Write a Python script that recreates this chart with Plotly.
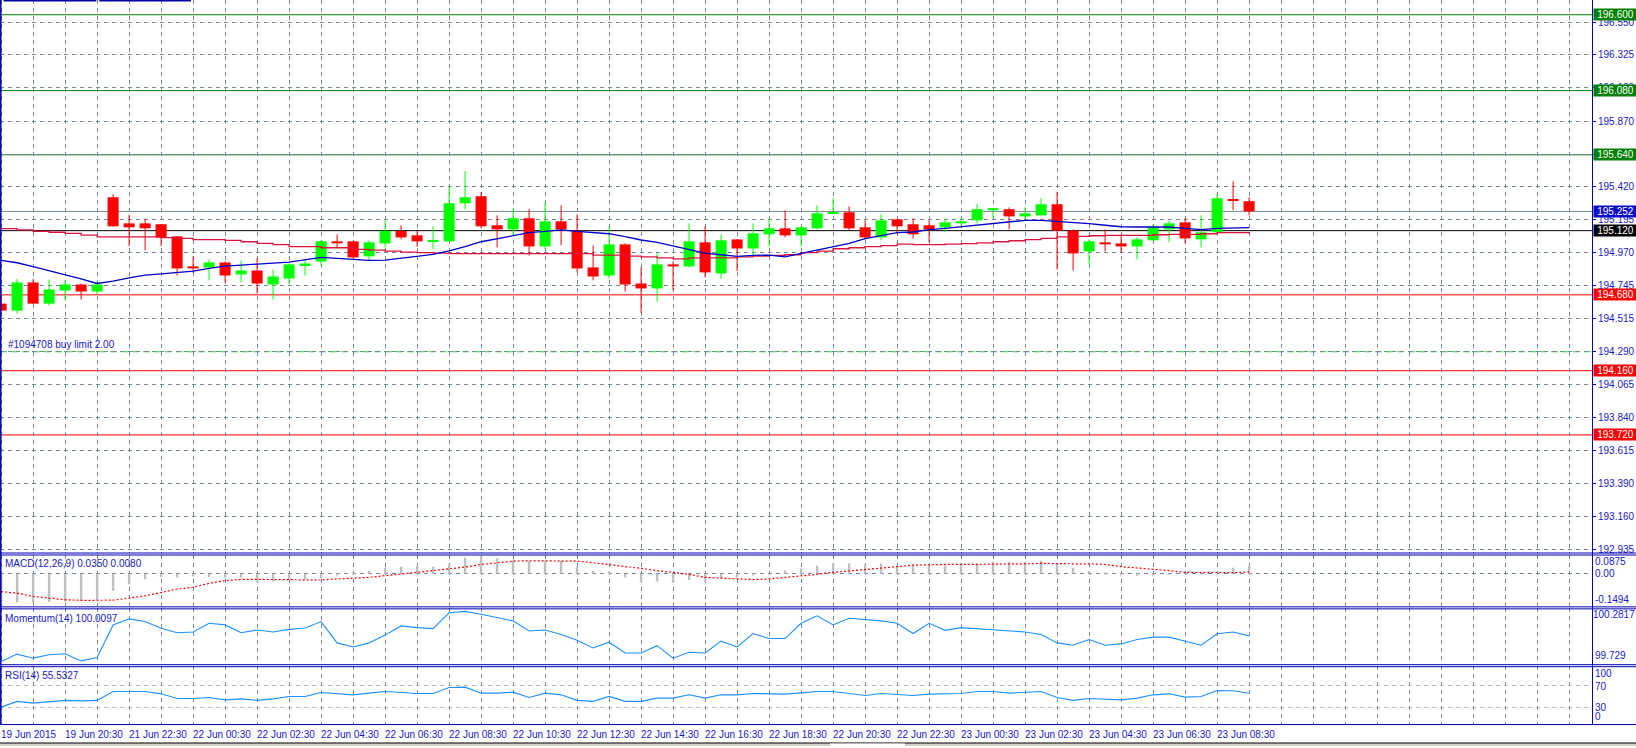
import plotly.graph_objects as go

# ---------------- data ----------------
TIME_LABELS = ["19 Jun 2015", "19 Jun 20:30", "21 Jun 22:30", "22 Jun 00:30", "22 Jun 02:30",
               "22 Jun 04:30", "22 Jun 06:30", "22 Jun 08:30", "22 Jun 10:30", "22 Jun 12:30",
               "22 Jun 14:30", "22 Jun 16:30", "22 Jun 18:30", "22 Jun 20:30", "22 Jun 22:30",
               "23 Jun 00:30", "23 Jun 02:30", "23 Jun 04:30", "23 Jun 06:30", "23 Jun 08:30"]
LABEL_EVERY = 4

OPEN = [194.620, 194.572, 194.765, 194.620, 194.710, 194.751, 194.703, 195.349, 195.170, 195.170,
        195.164, 195.081, 194.875, 194.868, 194.902, 194.820, 194.847, 194.751, 194.792, 194.882,
        194.909, 195.047, 195.047, 194.944, 195.033, 195.118, 195.088, 195.049, 195.047, 195.308,
        195.356, 195.157, 195.129, 195.205, 195.012, 195.184, 195.120, 194.868, 194.813, 195.026,
        194.758, 194.724, 194.889, 194.875, 195.040, 194.827, 195.060, 194.998, 195.095, 195.136,
        195.088, 195.136, 195.235, 195.246, 195.143, 195.074, 195.198, 195.164, 195.157, 195.143,
        195.170, 195.191, 195.260, 195.267, 195.218, 195.225, 195.301, 195.120, 194.978, 195.040,
        195.033, 195.012, 195.054, 195.129, 195.177, 195.060, 195.109, 195.335, 195.322]
HIGH = [194.694, 194.788, 194.788, 194.785, 194.779, 194.758, 194.774, 195.370, 195.228, 195.202,
        195.166, 195.083, 194.944, 194.923, 194.909, 194.916, 194.930, 194.854, 194.895, 194.923,
        195.054, 195.095, 195.051, 195.054, 195.191, 195.157, 195.118, 195.150, 195.422, 195.528,
        195.384, 195.225, 195.271, 195.267, 195.315, 195.294, 195.232, 195.019, 195.150, 195.033,
        194.868, 194.969, 194.909, 195.170, 195.150, 195.095, 195.062, 195.170, 195.202, 195.260,
        195.150, 195.294, 195.342, 195.287, 195.191, 195.232, 195.200, 195.205, 195.191, 195.205,
        195.205, 195.301, 195.274, 195.280, 195.280, 195.342, 195.386, 195.129, 195.060, 195.129,
        195.095, 195.074, 195.164, 195.191, 195.205, 195.225, 195.370, 195.459, 195.349]
LOW = [194.565, 194.552, 194.618, 194.607, 194.641, 194.648, 194.682, 195.147, 195.015, 194.985,
       195.015, 194.813, 194.831, 194.779, 194.765, 194.765, 194.689, 194.648, 194.758, 194.813,
       194.882, 195.001, 194.934, 194.916, 195.005, 195.060, 195.010, 194.992, 195.045, 195.267,
       195.136, 195.005, 195.088, 194.950, 194.992, 195.019, 194.834, 194.779, 194.792, 194.703,
       194.556, 194.634, 194.710, 194.868, 194.799, 194.792, 194.843, 194.950, 195.010, 195.074,
       195.010, 195.129, 195.232, 195.122, 195.060, 195.054, 195.095, 195.067, 195.040, 195.109,
       195.157, 195.170, 195.205, 195.129, 195.198, 195.223, 194.854, 194.847, 194.889, 194.978,
       194.971, 194.923, 195.052, 195.040, 195.033, 195.005, 195.102, 195.260, 195.225]
CLOSE = [194.572, 194.765, 194.620, 194.717, 194.751, 194.703, 194.751, 195.150, 195.143, 195.136,
         195.072, 194.861, 194.861, 194.902, 194.813, 194.847, 194.758, 194.806, 194.889, 194.895,
         195.047, 195.033, 194.937, 195.040, 195.118, 195.074, 195.047, 195.054, 195.308, 195.349,
         195.150, 195.129, 195.205, 195.012, 195.184, 195.129, 194.861, 194.806, 195.026, 194.751,
         194.724, 194.889, 194.875, 195.047, 194.834, 195.054, 194.998, 195.102, 195.136, 195.088,
         195.143, 195.239, 195.241, 195.136, 195.074, 195.191, 195.150, 195.095, 195.129, 195.177,
         195.184, 195.267, 195.274, 195.218, 195.239, 195.301, 195.120, 194.964, 195.047, 195.026,
         195.012, 195.060, 195.143, 195.170, 195.067, 195.109, 195.342, 195.329, 195.252]

MA_FAST = [194.916, 194.900, 194.873, 194.847, 194.820, 194.790, 194.758, 194.774, 194.797, 194.815,
           194.824, 194.831, 194.843, 194.861, 194.877, 194.884, 194.893, 194.898, 194.905, 194.923,
           194.937, 194.930, 194.923, 194.916, 194.918, 194.932, 194.944, 194.957, 194.982, 195.010,
           195.044, 195.065, 195.090, 195.106, 195.115, 195.125, 195.115, 195.109, 195.099, 195.079,
           195.056, 195.040, 195.017, 194.992, 194.966, 194.955, 194.944, 194.950, 194.953, 194.941,
           194.964, 194.987, 195.008, 195.033, 195.065, 195.085, 195.106, 195.111, 195.127, 195.136,
           195.147, 195.157, 195.170, 195.182, 195.191, 195.191, 195.184, 195.175, 195.168, 195.157,
           195.147, 195.145, 195.145, 195.145, 195.136, 195.127, 195.136, 195.141, 195.141]
MA_SLOW = [195.134, 195.125, 195.115, 195.109, 195.102, 195.090, 195.077, 195.077, 195.077, 195.077,
           195.072, 195.067, 195.058, 195.058, 195.054, 195.044, 195.033, 195.024, 195.010, 195.010,
           195.003, 195.003, 194.992, 194.987, 194.980, 194.973, 194.969, 194.966, 194.962, 194.962,
           194.962, 194.962, 194.962, 194.962, 194.962, 194.962, 194.962, 194.953, 194.953, 194.946,
           194.941, 194.934, 194.927, 194.934, 194.934, 194.934, 194.941, 194.946, 194.950, 194.955,
           194.969, 194.980, 194.996, 195.003, 195.010, 195.017, 195.028, 195.024, 195.024, 195.028,
           195.031, 195.037, 195.044, 195.051, 195.058, 195.067, 195.077, 195.081, 195.085, 195.088,
           195.088, 195.088, 195.092, 195.095, 195.095, 195.099, 195.106, 195.106, 195.099]

MACD_HIST = [-0.127, -0.131, -0.134, -0.130, -0.127, -0.124, -0.122, -0.079, -0.047, -0.026,
             -0.015, -0.017, -0.012, -0.015, -0.017, -0.018, -0.036, -0.036, -0.029, -0.026,
             -0.021, -0.005, 0.006, 0.012, 0.027, 0.032, 0.036, 0.032, 0.042, 0.073,
             0.077, 0.070, 0.065, 0.059, 0.059, 0.059, 0.032, 0.012, 0.009, -0.018,
             -0.036, -0.036, -0.041, -0.029, -0.036, -0.021, -0.018, -0.006, -0.003, 0.014,
             0.024, 0.036, 0.048, 0.047, 0.042, 0.047, 0.039, 0.042, 0.039, 0.039,
             0.047, 0.047, 0.054, 0.054, 0.054, 0.059, 0.042, 0.027, 0.012, 0.002,
             -0.006, -0.009, -0.006, -0.002, -0.003, -0.003, 0.009, 0.027, 0.035]
MACD_SIGNAL = [-0.082, -0.089, -0.104, -0.112, -0.119, -0.122, -0.122, -0.121, -0.112, -0.101,
               -0.086, -0.070, -0.062, -0.044, -0.032, -0.026, -0.026, -0.026, -0.026, -0.026,
               -0.029, -0.024, -0.021, -0.017, -0.009, -0.003, 0.006, 0.014, 0.021, 0.030,
               0.042, 0.051, 0.057, 0.059, 0.059, 0.059, 0.057, 0.050, 0.042, 0.035,
               0.024, 0.014, 0.005, -0.003, -0.017, -0.021, -0.026, -0.027, -0.024, -0.017,
               -0.012, -0.003, 0.006, 0.012, 0.017, 0.024, 0.032, 0.039, 0.042, 0.042,
               0.042, 0.042, 0.044, 0.044, 0.045, 0.047, 0.045, 0.045, 0.045, 0.042,
               0.032, 0.027, 0.021, 0.014, 0.006, 0.005, 0.003, 0.005, 0.008]
MOMENTUM = [99.756, 99.829, 99.789, 99.822, 99.833, 99.762, 99.796, 100.118, 100.178, 100.151,
            100.084, 100.041, 100.048, 100.134, 100.118, 100.041, 100.068, 100.048, 100.074, 100.088,
            100.151, 99.940, 99.900, 99.940, 100.017, 100.108, 100.091, 100.081, 100.238, 100.252,
            100.224, 100.191, 100.158, 100.058, 100.068, 100.023, 99.967, 99.890, 99.947, 99.840,
            99.840, 99.913, 99.789, 99.847, 99.840, 99.957, 99.900, 100.033, 99.983, 99.983,
            100.134, 100.208, 100.118, 100.184, 100.174, 100.158, 100.134, 100.033, 100.134, 100.064,
            100.091, 100.081, 100.068, 100.064, 100.048, 100.023, 99.940, 99.917, 99.973, 99.917,
            99.930, 99.973, 99.997, 99.997, 99.957, 99.917, 100.030, 100.048, 100.0097]
RSI = [30.5, 40.8, 37.7, 40.8, 42.6, 41.8, 42.6, 58.7, 58.7, 58.7,
       54.4, 46.1, 46.1, 47.9, 43.6, 45.4, 42.6, 45.4, 49.7, 49.7,
       56.9, 54.4, 52.6, 55.6, 58.7, 56.9, 55.1, 55.1, 65.9, 66.4,
       55.6, 55.6, 57.4, 47.9, 55.6, 52.6, 42.6, 40.8, 49.7, 40.8,
       40.8, 46.7, 46.7, 52.6, 46.7, 52.6, 52.6, 55.1, 54.4, 53.9,
       56.2, 58.7, 58.7, 55.1, 51.5, 55.1, 53.9, 51.5, 53.9, 55.1,
       55.1, 58.7, 58.7, 55.6, 57.4, 58.7, 47.9, 42.6, 46.1, 45.4,
       43.6, 46.7, 52.6, 54.4, 48.5, 49.7, 60.5, 59.9, 55.5327]

PRICE_TICKS = [196.550, 196.325, 196.100, 195.870, 195.645, 195.420, 195.195, 194.970, 194.745,
               194.515, 194.290, 194.065, 193.840, 193.615, 193.390, 193.160, 192.935]
RESISTANCE = [196.600, 196.080, 195.640]
SUPPORT = [194.680, 194.160, 193.720]
BID = 195.252
PIVOT = 195.120
ORDER_LEVEL = 194.290
ORDER_TEXT = "#1094708 buy limit 2.00"
MACD_TITLE = "MACD(12,26,9) 0.0350 0.0080"
MOM_TITLE = "Momentum(14) 100.0097"
RSI_TITLE = "RSI(14) 55.5327"
MACD_RANGE = [-0.1494, 0.0875]
MOM_RANGE = [99.729, 100.2817]
RSI_LEVELS = [30, 70]

# ---------------- layout helpers ----------------
W, H = 1636, 748
AXIS_PX = 1592
def py(y):
    return 1 - y / H
def px(x):
    return x / W

FONT = "Liberation Sans, Arial, sans-serif"
FS = 10
TXT = "#1A1AC8"
FRAME = "#0000B4"
GRID = "#778899"
GDASH = "4px,4px"
UP, DN = "#00FF00", "#FF0000"

n = len(CLOSE)
idx = list(range(n))
XR = [-1.1 / 16, (AXIS_PX - 1.1) / 16]

fig = go.Figure()

# candle bodies
bases, heights, cols = [], [], []
for o, c in zip(OPEN, CLOSE):
    lo, hi = min(o, c), max(o, c)
    h = max(hi - lo, 0.0068)
    bases.append(lo if hi - lo >= 0.0068 else (lo + hi) / 2 - 0.0034)
    heights.append(h)
    cols.append(UP if c >= o else DN)
fig.add_trace(go.Bar(x=idx, y=heights, base=bases, width=0.69, marker=dict(color=cols, line=dict(width=0)),
                     xaxis="x", yaxis="y", hoverinfo="skip"))
# wicks
for col, cond in ((UP, True), (DN, False)):
    wx, wy = [], []
    for i in idx:
        if (CLOSE[i] >= OPEN[i]) == cond:
            wx += [i, i, None]
            wy += [LOW[i], HIGH[i], None]
    fig.add_trace(go.Scatter(x=wx, y=wy, mode="lines", line=dict(color=col, width=1),
                             xaxis="x", yaxis="y", hoverinfo="skip"))
# moving averages
fig.add_trace(go.Scatter(x=idx, y=MA_SLOW, mode="lines", line=dict(color="#DC143C", width=1.3, shape="hv"),
                         xaxis="x", yaxis="y"))
fig.add_trace(go.Scatter(x=idx, y=MA_FAST, mode="lines", line=dict(color="#0000C8", width=1.3),
                         xaxis="x", yaxis="y"))

# MACD
fig.add_trace(go.Bar(x=idx, y=MACD_HIST, width=0.15, marker=dict(color="#C0C0C0", line=dict(width=0)),
                     xaxis="x2", yaxis="y2"))
fig.add_trace(go.Scatter(x=idx, y=MACD_SIGNAL, mode="lines", line=dict(color="#FF0000", width=1.2, dash="2px,2px"),
                         xaxis="x2", yaxis="y2"))
# Momentum
fig.add_trace(go.Scatter(x=idx, y=MOMENTUM, mode="lines", line=dict(color="#1E90FF", width=1.1),
                         xaxis="x3", yaxis="y3"))
# RSI
fig.add_trace(go.Scatter(x=idx, y=RSI, mode="lines", line=dict(color="#1E90FF", width=1.1),
                         xaxis="x4", yaxis="y4"))

xcommon = dict(range=XR, tickmode="array", tickvals=list(range(0, 100, 2)), showticklabels=False,
               ticks="", showgrid=True, gridcolor=GRID, gridwidth=1, griddash=GDASH,
               zeroline=False, showline=False, domain=[0, px(AXIS_PX)])
layout = dict(
    width=W, height=H, margin=dict(l=0, r=0, t=0, b=0),
    paper_bgcolor="white", plot_bgcolor="white", showlegend=False, barmode="overlay",
    xaxis=dict(**xcommon, anchor="y"),
    xaxis2=dict(**xcommon, anchor="y2", matches="x"),
    xaxis3=dict(**xcommon, anchor="y3", matches="x"),
    xaxis4=dict(**xcommon, anchor="y4", matches="x"),
    yaxis=dict(domain=[py(554), 1], range=[192.914, 196.701], side="right", anchor="x",
               tickmode="array", tickvals=PRICE_TICKS, ticktext=[f"{v:.3f}" for v in PRICE_TICKS],
               tickfont=dict(family=FONT, size=FS, color=TXT), ticks="outside", ticklen=3,
               tickcolor=FRAME, showgrid=True, gridcolor=GRID, griddash=GDASH,
               zeroline=False, showline=False),
    yaxis2=dict(domain=[py(608), py(556)], range=MACD_RANGE, anchor="x2", side="right",
                tickmode="array", tickvals=[0], showticklabels=False, ticks="",
                showgrid=True, gridcolor=GRID, griddash=GDASH, zeroline=False),
    yaxis3=dict(domain=[py(666), py(610)], range=MOM_RANGE, anchor="x3", side="right",
                showticklabels=False, ticks="", showgrid=False, zeroline=False),
    yaxis4=dict(domain=[py(726), py(668)], range=[0, 104.1], anchor="x4", side="right",
                tickmode="array", tickvals=RSI_LEVELS, showticklabels=False, ticks="",
                showgrid=True, gridcolor="#B8B8B8", griddash=GDASH, zeroline=False),
)
fig.update_layout(**layout)

shapes = []
# price level lines
def hline(y, color, dash="solid"):
    shapes.append(dict(type="line", xref="paper", yref="y", x0=0, x1=px(AXIS_PX), y0=y, y1=y,
                       line=dict(color=color, width=1, dash=dash), layer="between"))
for v in RESISTANCE:
    hline(v, "#008000")
for v in SUPPORT:
    hline(v, "#FF0000")
hline(BID, GRID)
hline(PIVOT, "#000000")
hline(ORDER_LEVEL, "#32CD32", "7px,4px")

# panel frames
for yy in (554.5, 556.5, 608.5, 610.5, 666.5, 668.5, 726.5):
    shapes.append(dict(type="line", xref="paper", yref="paper", x0=0, x1=1, y0=py(yy), y1=py(yy),
                       line=dict(color=FRAME, width=1), layer="above"))
shapes.append(dict(type="line", xref="paper", yref="paper", x0=px(0.8), x1=px(0.8), y0=py(0), y1=py(726.5),
                   line=dict(color=FRAME, width=1.5), layer="above"))
shapes.append(dict(type="line", xref="paper", yref="paper", x0=px(AXIS_PX + 0.5), x1=px(AXIS_PX + 0.5),
                   y0=py(0), y1=py(726.5), line=dict(color=FRAME, width=1), layer="above"))
# top-left little bars
for a, b in ((3.6, 96.4), (99.3, 191)):
    shapes.append(dict(type="line", xref="paper", yref="paper", x0=px(a), x1=px(b), y0=py(0.5), y1=py(0.5),
                       line=dict(color="#0000AA", width=2), layer="above"))
# bottom strip
shapes.append(dict(type="rect", xref="paper", yref="paper", x0=0, x1=1, y0=py(748), y1=py(745),
                   fillcolor="#D4D0C8", line=dict(width=0), layer="above"))
shapes.append(dict(type="line", xref="paper", yref="paper", x0=0, x1=1, y0=py(745), y1=py(745),
                   line=dict(color="#000000", width=1), layer="above"))
shapes.append(dict(type="rect", xref="paper", yref="paper", x0=px(830), x1=px(905), y0=py(748), y1=py(745.5),
                   fillcolor="white", line=dict(width=0), layer="above"))
fig.update_layout(shapes=shapes)

ann = []
def price_label(v, bg):
    ann.append(dict(xref="paper", yref="y", x=px(AXIS_PX + 1), y=v, xanchor="left", yanchor="middle",
                    text=f"{v:.3f}", showarrow=False, bgcolor=bg, width=41, height=9, borderpad=1,
                    align="center", font=dict(family=FONT, size=FS, color="white")))
for v in RESISTANCE:
    price_label(v, "#008000")
price_label(BID, "#0A0AC8")
price_label(PIVOT, "#000000")
for v in SUPPORT:
    price_label(v, "#FF0000")

ann.append(dict(xref="paper", yref="y", x=px(6), y=ORDER_LEVEL, xanchor="left", yanchor="bottom",
                text=ORDER_TEXT, showarrow=False, font=dict(family=FONT, size=FS, color=TXT)))

for t, yc in ((MACD_TITLE, 564.7), (MOM_TITLE, 620), (RSI_TITLE, 677)):
    ann.append(dict(xref="paper", yref="paper", x=px(3), y=py(yc), xanchor="left", yanchor="middle",
                    text=t, showarrow=False, font=dict(family=FONT, size=FS, color=TXT)))

def side_label(text, yref, y, anchor, shift=0, right=False):
    ann.append(dict(xref="paper", yref=yref, x=1.0 if right else px(AXIS_PX + 2), y=y,
                    xanchor="right" if right else "left", yanchor=anchor, yshift=shift,
                    text=text, showarrow=False, borderpad=0,
                    font=dict(family=FONT, size=FS, color=TXT)))
side_label(f"{MACD_RANGE[1]:.4f}", "y2", MACD_RANGE[1], "top")
side_label("0.00", "y2", 0, "middle")
side_label(f"{MACD_RANGE[0]:.4f}", "y2", MACD_RANGE[0], "bottom")
side_label(f"{MOM_RANGE[1]:.4f}", "y3", MOM_RANGE[1], "top", right=True)
side_label(f"{MOM_RANGE[0]:.3f}", "y3", MOM_RANGE[0], "bottom", shift=2)
side_label("100", "y4", 100, "top", shift=1)
side_label("70", "y4", 70, "middle", shift=-1)
side_label("30", "y4", 30, "middle")
side_label("0", "y4", 0, "bottom", shift=1)

for k, lab in enumerate(TIME_LABELS):
    ann.append(dict(xref="x4", yref="paper", x=k * LABEL_EVERY, y=py(736.5), xanchor="left", yanchor="middle",
                    xshift=-1, text=lab, showarrow=False, borderpad=0,
                    font=dict(family=FONT, size=FS, color=TXT)))
fig.update_layout(annotations=ann)

fig.write_html("out.html")
